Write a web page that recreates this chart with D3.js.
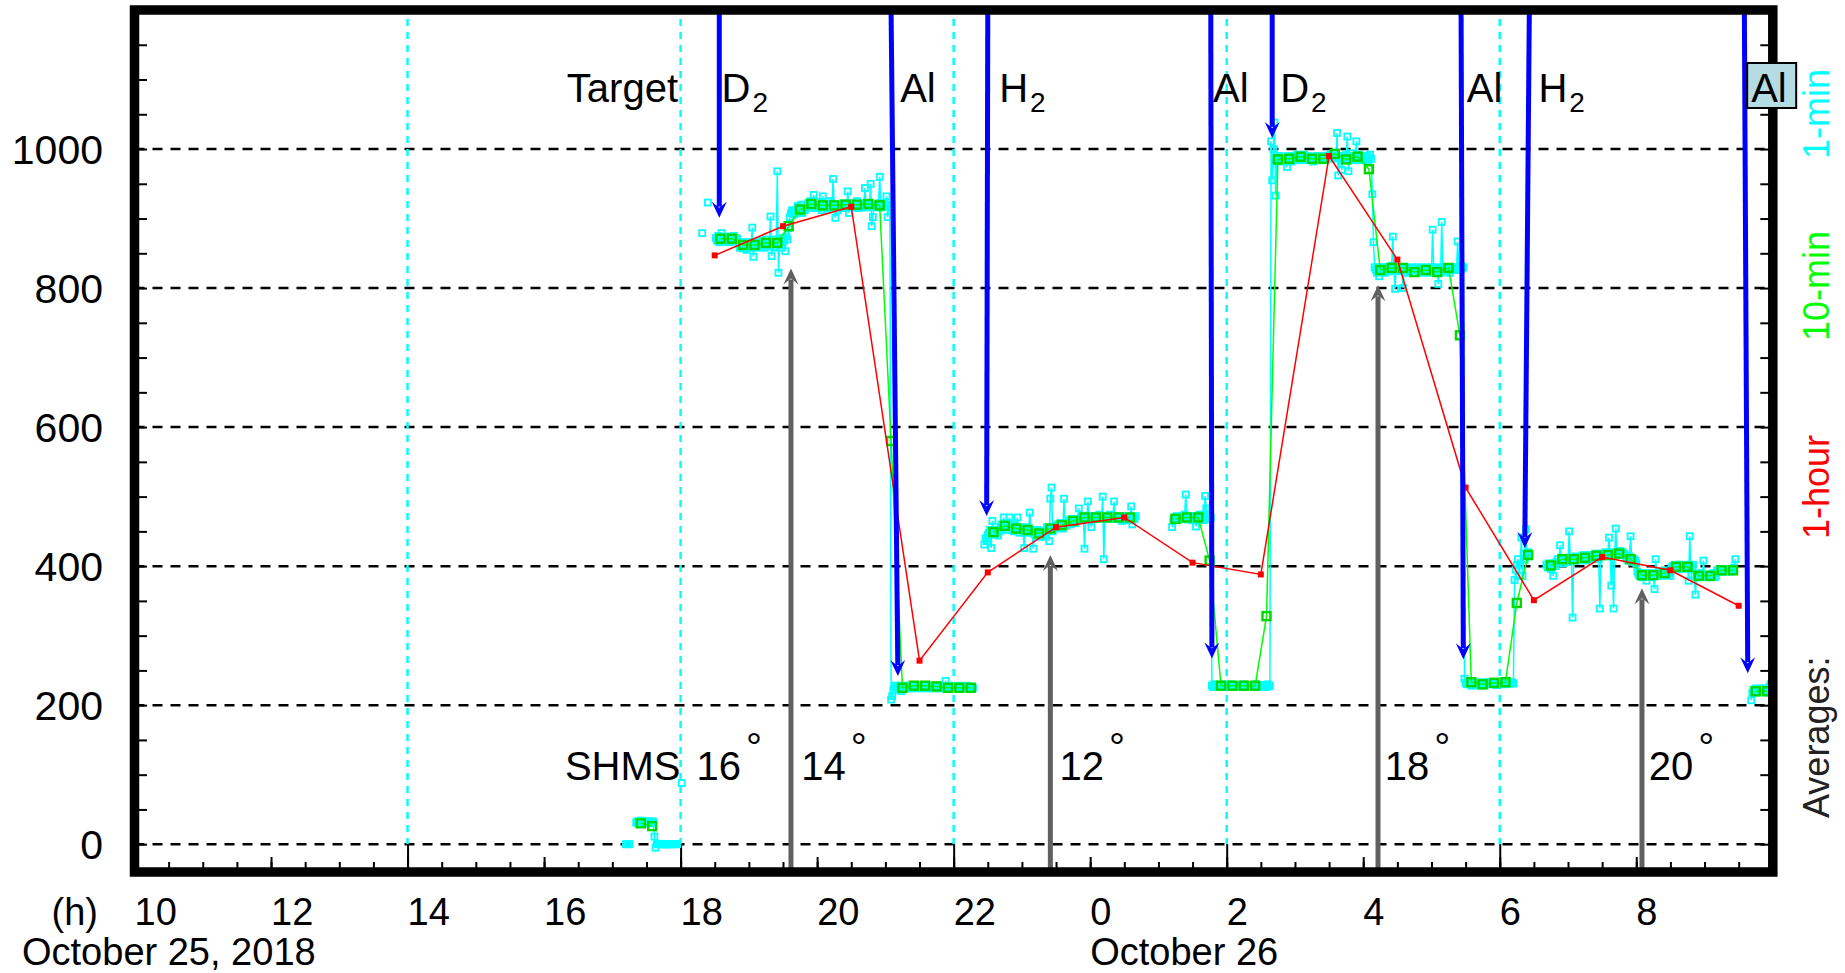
<!DOCTYPE html>
<html>
<head>
<meta charset="utf-8">
<script src="https://cdn.jsdelivr.net/npm/d3@7"></script>
<style>
body { margin: 0; background: #fff; }
svg { display: block; }
text { font-family: "Liberation Sans", Arial, sans-serif; }
</style>
</head>
<body>
<svg id="chart" width="1845" height="973"></svg>
<script>
var parseT = d3.timeParse("%Y-%m-%d %H:%M");

// ---- data (times are Oct 25/26 2018) ----

// 1-hour averages, one per hour starting at hourStart
var hourStart = "2018-10-25 18:30";
var hourAvg = [847, 889, 917, 264, 391, 456, 470, 405, 388, 990, 841, 513, 351, 413, 394, 343];

// 10-min averages, [start, values every 10 min]
var tenMinSegs = [
  ["2018-10-25 17:25", [30, 26]],
  ["2018-10-25 18:35", [871, 871, 862, 862, 865, 865, 889, 913, 921, 919, 919, 920, 920, 921, 919, 580,
                        225, 228, 228, 227, 225, 225, 225]],
  ["2018-10-25 22:35", [449, 458, 454, 452, 447, 454, 459, 465, 470, 470, 470, 470, 470]],
  ["2018-10-26 01:15", [468, 470, 470, 408, 228, 228, 228, 228, 328, 985, 986, 989, 986, 986, 993, 985,
                        989, 971, 826, 829, 829, 823, 826, 823, 829, 732, 233, 230, 232, 233, 347, 416]],
  ["2018-10-26 06:45", [401, 410, 410, 412, 415, 416, 418, 410, 387, 387, 390, 399, 399, 386, 386, 394, 394]],
  ["2018-10-26 09:45", [220, 220]]
];

// 1-min averages, [start, values every minute]
var oneMinSegs = [
  ["2018-10-25 17:12", [0, 0, 0, 0]],
  ["2018-10-25 17:21", [31, 33, 30, 32, 34, 31, 33, 30, 32, 31, 33, 32, 30, 31, 33, 32, 11, -5,
                        0, 0, 0, 0, 0, 0, 0, 0, 0, 0, 0, 0, 0, 0, 0, 0, 0, 0, 0]],
  ["2018-10-25 18:01", [88]],
  ["2018-10-25 18:19", [879]],
  ["2018-10-25 18:24", [923]],
  ["2018-10-25 18:31", [
    872, 868, 875, 866, 870, 879, 866, 872, 869, 874,
    870, 873, 866, 874, 868, 871, 875, 867, 872, 870,
    864, 858, 866, 860, 857, 864, 862, 855, 866, 860,
    858, 864, 887, 845, 860, 866, 858, 863, 860, 865,
    868, 860, 864, 858, 870, 862, 866, 860, 903, 846,
    866, 860, 870, 858, 968, 822, 862, 870, 858, 872,
    868, 853, 874, 870, 886, 902, 908, 912, 910, 906,
    908, 912, 918, 910, 915, 920, 908, 916, 912, 914,
    918, 922, 916, 925, 920, 918, 934, 915, 918, 924,
    915, 920, 918, 912, 932, 916, 920, 918, 914, 925,
    918, 922, 916, 957, 918, 901, 918, 912, 920, 916,
    918, 915, 922, 920, 916, 918, 939, 908, 920, 922,
    916, 922, 918, 920, 925, 915, 918, 920, 916, 922,
    918, 944, 920, 916, 922, 918, 950, 889, 902, 920,
    920, 916, 918, 922, 960, 918, 916, 920, 922, 918,
    932, 902, 918, 920, 208, 213, 222, 226, 228, 226,
    224, 228, 226, 220, 227, 225, 228, 226, 224, 227,
    225, 228, 226, 224, 229, 226, 225, 227, 228, 226,
    224, 227, 229, 225, 226, 228, 224, 226, 227, 225,
    228, 226, 224, 227, 226, 228, 225, 226, 224, 227,
    226, 225, 235, 226, 224, 228, 226, 225, 227, 226,
    224, 227, 225, 228, 226, 224, 227, 226, 225, 226,
    228, 225, 227, 226, 224, 226, 225]],
  ["2018-10-25 22:27", [
    431, 440, 436, 445,
    448, 452, 426, 465, 450, 446, 452, 448, 444, 450,
    456, 460, 454, 470, 458, 452, 462, 456, 470, 460,
    452, 456, 450, 458, 454, 470, 452, 448, 456, 454,
    450, 426, 456, 452, 448, 454, 477, 452, 450, 425,
    446, 450, 444, 452, 446, 448, 442, 450, 446, 448,
    450, 456, 452, 436, 497, 513, 450, 456, 454, 458,
    456, 460, 458, 462, 456, 454, 497, 460, 458, 462,
    462, 466, 460, 468, 464, 466, 462, 468, 466, 483,
    468, 470, 466, 472, 425, 470, 468, 493, 472, 470,
    456, 470, 468, 472, 470, 468, 470, 474, 468, 470,
    500, 410, 470, 472, 468, 470, 474, 468, 470, 472,
    493, 470, 468, 472, 470, 468, 472, 465, 470, 468,
    470, 472, 468, 470, 466, 486, 460, 470, 468, 472]],
  ["2018-10-26 01:12", [
    456, 466, 470, 468, 472, 466, 470, 468, 472,
    470, 468, 474, 503, 470, 467, 472, 468, 470, 466,
    470, 472, 457, 468, 470, 474, 468, 470, 472, 466,
    501, 483, 470, 468, 472, 470, 228, 226, 230, 228,
    226, 228, 229, 227, 228, 226, 230, 228, 227, 229,
    228, 226, 228, 230, 227, 228, 226, 229, 228, 227,
    229, 228, 226, 228, 230, 227, 228, 226, 228, 229,
    228, 226, 229, 227, 228, 230, 226, 228, 227, 228,
    229, 227, 228, 226, 228, 230, 227, 228, 1011, 955,
    1000, 1038, 933, 988, 984, 990, 986, 982, 988, 984,
    986, 984, 974, 990, 986, 988, 982, 986, 990, 984,
    988, 992, 986, 990, 988, 984, 990, 992, 986, 988,
    986, 990, 984, 988, 986, 982, 988, 986, 990, 984,
    988, 984, 986, 990, 986, 988, 984, 986, 988, 990,
    992, 988, 986, 990, 994, 988, 1023, 962, 990, 986,
    970, 988, 986, 990, 992, 1018, 968, 990, 986, 994,
    988, 984, 990, 1011, 986, 992, 988, 984, 990, 986,
    988, 986, 990, 984, 987, 992, 986, 935, 866, 830,
    826, 822, 830, 817, 828, 824, 830, 826, 822, 828,
    830, 826, 824, 828, 832, 874, 826, 799, 830, 828,
    826, 830, 824, 828, 800, 826, 830, 822, 828, 826,
    824, 828, 826, 830, 822, 828, 826, 830, 824, 828,
    826, 822, 828, 830, 824, 826, 828, 822, 830, 826,
    884, 826, 824, 830, 828, 806, 826, 822, 895, 828,
    826, 830, 824, 828, 826, 822, 830, 828, 826, 830,
    828, 826, 867, 830, 826, 832, 828, 830, 238, 232,
    230, 232, 234, 231, 228, 232, 230, 233, 231, 229,
    232, 230, 228, 231, 233, 229, 232, 230, 231, 233,
    231, 233, 230, 232, 234, 231, 229, 232, 233, 231,
    232, 234, 231, 233, 230, 232, 234, 233, 231, 232,
    233, 231, 380, 395, 402, 410, 386, 402, 441, 386,
    418, 410, 453, 414, 420, 416]],
  ["2018-10-26 06:41", [
    402, 398, 404, 400, 396, 402, 386, 404, 400, 406,
    410, 406, 430, 408, 412, 404, 410, 408, 412, 406,
    450, 410, 408, 326, 412, 410, 414, 408, 412, 410,
    412, 414, 410, 416, 412, 408, 414, 412, 416, 410,
    414, 416, 412, 418, 414, 416, 410, 339, 418, 416,
    418, 416, 420, 414, 418, 441, 416, 372, 420, 339,
    418, 454, 420, 416, 418, 422, 416, 420, 418, 416,
    412, 410, 408, 414, 443, 410, 406, 410, 408, 404,
    392, 388, 386, 390, 384, 388, 386, 390, 379, 388,
    386, 390, 384, 388, 386, 367, 410, 388, 386, 390,
    388, 392, 390, 386, 394, 390, 388, 392, 390, 386,
    398, 400, 396, 402, 398, 400, 396, 402, 398, 400,
    400, 398, 402, 396, 400, 379, 443, 400, 398, 402,
    386, 359, 388, 384, 386, 390, 384, 388, 408, 386,
    386, 384, 388, 386, 384, 388, 386, 390, 384, 386,
    394, 392, 396, 394, 392, 396, 394, 392, 396, 394,
    394, 396, 392, 394, 396, 398, 410]],
  ["2018-10-26 09:41", [207, 218, 222, 220, 224, 218, 222, 220, 224, 221, 219, 222, 220, 224, 218, 222, 226, 230, 228]]
];

// target changes: [line start at top, arrow tip time, tip value]
var targetArrows = [
  ["2018-10-25 18:34", "2018-10-25 18:34", 901],
  ["2018-10-25 21:05", "2018-10-25 21:11", 242],
  ["2018-10-25 22:30", "2018-10-25 22:29", 472],
  ["2018-10-26 01:46", "2018-10-26 01:47", 267],
  ["2018-10-26 02:40", "2018-10-26 02:40", 1016],
  ["2018-10-26 05:26", "2018-10-26 05:28", 266],
  ["2018-10-26 06:26", "2018-10-26 06:22", 426],
  ["2018-10-26 09:35", "2018-10-26 09:38", 246]
];
var targetNames = ["D2", "Al", "H2", "Al", "D2", "Al", "H2", "Al"];
var targetLabelTimes = ["2018-10-25 18:36", "2018-10-25 21:13", "2018-10-25 22:40", "2018-10-26 01:48",
                        "2018-10-26 02:47", "2018-10-26 05:31", "2018-10-26 06:34", "2018-10-26 09:41"];

// SHMS angle changes
var angleArrows = [["2018-10-25 19:37", 828], ["2018-10-25 23:25", 416], ["2018-10-26 04:13", 804], ["2018-10-26 08:05", 368]];
var angleLabels = ["16", "14", "12", "18", "20"];
var angleLabelTimes = ["2018-10-25 18:14", "2018-10-25 19:46", "2018-10-25 23:33", "2018-10-26 04:19", "2018-10-26 08:11"];

var shiftLines = ["2018-10-25 14:00", "2018-10-25 18:00", "2018-10-25 22:00", "2018-10-26 02:00", "2018-10-26 06:00"];
var gridValues = [0, 200, 400, 600, 800, 1000];

// ---- scales ----
var x = d3.scaleTime()
  .domain([parseT("2018-10-25 10:00"), parseT("2018-10-26 10:00")])
  .range([134.5, 1772.8]);
var y = d3.scaleLinear().domain([-40, 1200]).range([872, 10]);
var X0 = x.range()[0], X1 = x.range()[1], YB = y.range()[0], YT = y.range()[1];

var svg = d3.select("#chart");
svg.append("rect").attr("width", 1845).attr("height", 973).attr("fill", "#fff");

// horizontal dashed grid
svg.append("g").selectAll("line").data(gridValues).join("line")
  .attr("x1", X0).attr("x2", X1)
  .attr("y1", function (d) { return y(d); }).attr("y2", function (d) { return y(d); })
  .attr("stroke", "#000").attr("stroke-width", 2.5).attr("stroke-dasharray", "10,8");

// cyan shift lines
svg.append("g").selectAll("line").data(shiftLines).join("line")
  .attr("x1", function (d) { return x(parseT(d)); }).attr("x2", function (d) { return x(parseT(d)); })
  .attr("y1", YT + 9).attr("y2", y(0))
  .attr("stroke", "#00ffff").attr("stroke-width", 2.5).attr("stroke-dasharray", "7,6");

// ticks
function cleanAxis(g) {
  g.select(".domain").remove();
  g.selectAll(".tick line").attr("stroke", "#000").attr("stroke-width", 2);
}
svg.append("g").attr("transform", "translate(" + X0 + ",0)")
  .call(d3.axisRight(y).tickValues(d3.range(0, 1200, 50)).tickSize(12.5).tickFormat(""))
  .call(cleanAxis);
svg.append("g").attr("transform", "translate(" + X1 + ",0)")
  .call(d3.axisLeft(y).tickValues(d3.range(0, 1200, 50)).tickSize(12.5).tickFormat(""))
  .call(cleanAxis);
svg.append("g").attr("transform", "translate(0," + YB + ")")
  .call(d3.axisTop(x).ticks(d3.timeMinute.every(30)).tickSize(10).tickFormat(""))
  .call(cleanAxis);
svg.append("g").attr("transform", "translate(0," + YB + ")")
  .call(d3.axisTop(x).ticks(d3.timeHour.every(2)).tickSize(15).tickFormat(""))
  .call(cleanAxis);
svg.append("g").attr("transform", "translate(0," + YB + ")")
  .call(d3.axisTop(x).tickValues(shiftLines.map(parseT)).tickSize(YB - y(0)).tickFormat(""))
  .call(cleanAxis);

// ---- series ----
function expand(segs, stepMin) {
  return segs.map(function (s) {
    var t0 = parseT(s[0]);
    return s[1].map(function (v, i) { return { t: d3.timeMinute.offset(t0, i * stepMin), v: v }; });
  });
}
var line = d3.line().x(function (d) { return x(d.t); }).y(function (d) { return y(d.v); });

function drawSeries(segs, color, lw, size, sqStroke, fill, sw) {
  var g = svg.append("g");
  g.selectAll("path").data(segs).join("path")
    .attr("d", line).attr("fill", "none").attr("stroke", color).attr("stroke-width", lw);
  g.selectAll("rect").data(segs.flat()).join("rect")
    .attr("x", function (d) { return x(d.t) - size / 2; })
    .attr("y", function (d) { return y(d.v) - size / 2; })
    .attr("width", size).attr("height", size)
    .attr("fill", fill).attr("stroke", sqStroke).attr("stroke-width", sw);
}
drawSeries(expand(oneMinSegs, 1), "#00ffff", 1.5, 6, "#00ffff", "none", 1.8);
drawSeries(expand(tenMinSegs, 10), "#00ff00", 1.5, 8, "#00d800", "none", 2.4);
drawSeries(expand([[hourStart, hourAvg]], 60), "#ff0000", 1.5, 6, "none", "#ff0000", 0);

// ---- arrows ----
function arrow(g, xa, ya, xb, yb, color) {
  var ang = Math.atan2(yb - ya, xb - xa);
  var back = 11;
  g.append("line")
    .attr("x1", xa).attr("y1", ya)
    .attr("x2", xb - back * Math.cos(ang)).attr("y2", yb - back * Math.sin(ang))
    .attr("stroke", color).attr("stroke-width", 5);
  g.append("path")
    .attr("d", "M0,0 L-16,-7.5 L-10,0 L-16,7.5 Z")
    .attr("transform", "translate(" + xb + "," + yb + ") rotate(" + (ang * 180 / Math.PI) + ")")
    .attr("fill", color);
}
var ga = svg.append("g");
targetArrows.forEach(function (a) {
  arrow(ga, x(parseT(a[0])), YT, x(parseT(a[1])), y(a[2]), "#0000ff");
});
angleArrows.forEach(function (a) {
  arrow(ga, x(parseT(a[0])), YB, x(parseT(a[0])), y(a[1]), "#606060");
});

// frame
svg.append("rect")
  .attr("x", X0).attr("y", YT).attr("width", X1 - X0).attr("height", YB - YT)
  .attr("fill", "none").attr("stroke", "#000").attr("stroke-width", 9.5);

// ---- text ----
var fs = 38, fl = 40;
svg.append("g").selectAll("text").data(gridValues).join("text")
  .attr("x", 103).attr("y", function (d) { return y(d) + 14.5; })
  .attr("text-anchor", "end").attr("font-size", 41).text(function (d) { return d; });

var hourTicks = x.ticks(d3.timeHour.every(2)).filter(function (d) { return d < x.domain()[1]; });
svg.append("g").selectAll("text").data(hourTicks).join("text")
  .attr("x", function (d) { return x(d); }).attr("y", 925)
  .attr("font-size", fs).text(d3.timeFormat("%-H"));
svg.append("text").attr("x", 98).attr("y", 925).attr("text-anchor", "end").attr("font-size", fs).text("(h)");
svg.append("text").attr("x", 22).attr("y", 965).attr("font-size", fs).text("October 25, 2018");
svg.append("text").attr("x", x(parseT("2018-10-26 00:00"))).attr("y", 965).attr("font-size", fs).text("October 26");

svg.append("text").attr("x", x(parseT("2018-10-25 16:20"))).attr("y", 102).attr("font-size", fl).text("Target");

var lastT = targetNames.length - 1;
var boxX = x(parseT(targetLabelTimes[lastT])) - 4;
svg.append("rect").attr("x", boxX).attr("y", 63).attr("width", 49).attr("height", 45)
  .attr("fill", "#b4dce2").attr("stroke", "#000").attr("stroke-width", 2);

targetNames.forEach(function (name, i) {
  var t = svg.append("text").attr("x", x(parseT(targetLabelTimes[i]))).attr("y", 102).attr("font-size", fl);
  t.append("tspan").text(name.replace("2", ""));
  if (name.indexOf("2") >= 0) {
    t.append("tspan").attr("font-size", 28).attr("dx", 2).attr("dy", 10).text("2");
  }
});

svg.append("text").attr("x", x(parseT(angleLabelTimes[0])) - 16).attr("y", 780)
  .attr("text-anchor", "end").attr("font-size", fl).text("SHMS");
angleLabels.forEach(function (lab, i) {
  var t = svg.append("text").attr("x", x(parseT(angleLabelTimes[i]))).attr("y", 780).attr("font-size", fl);
  t.append("tspan").text(lab);
  t.append("tspan").attr("dx", 5).attr("dy", -19).text("\u00b0");
});

var sideLabels = [["Averages:", "#222", 818], ["1-hour", "#ff0000", 539], ["10-min", "#00ff00", 341], ["1-min", "#00ffff", 159]];
sideLabels.forEach(function (s) {
  svg.append("text")
    .attr("transform", "translate(1829," + s[2] + ") rotate(-90)")
    .attr("font-size", 36).attr("fill", s[1]).text(s[0]);
});
</script>
</body>
</html>
